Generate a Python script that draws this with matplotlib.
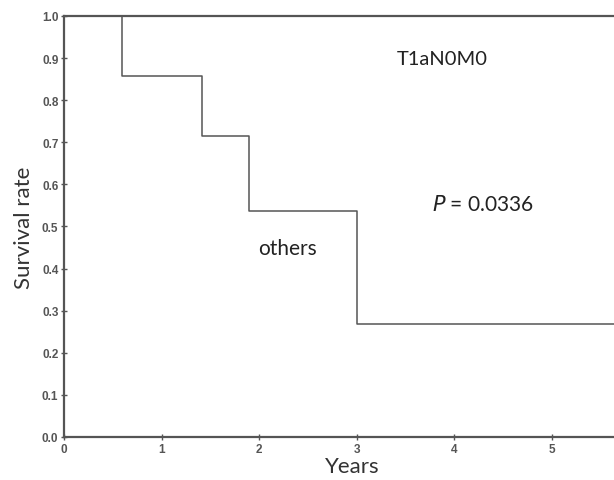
import matplotlib
matplotlib.use('Agg')
import matplotlib.pyplot as plt

# Kaplan-Meier steps
others_years = [0, 0.6, 1.42, 1.9, 3.0, 5.64]
others_surv = [1.0, 0.857, 0.714, 0.536, 0.268, 0.268]
t1a_years = [0, 5.64]
t1a_surv = [1.0, 1.0]

x_ticks = [0, 1, 2, 3, 4, 5]
y_ticks = [0.0, 0.1, 0.2, 0.3, 0.4, 0.5, 0.6, 0.7, 0.8, 0.9, 1.0]

line_col = '#555555'
label_font = 'Lato'

fig = plt.figure(figsize=(6.14, 4.81), dpi=100)
ax = fig.add_axes([0.1042, 0.0894, 0.8958, 0.8753])

ax.step(others_years, others_surv, where='post', color=line_col, lw=1.1)
ax.plot(t1a_years, t1a_surv, color=line_col, lw=1.6, clip_on=False)

ax.set_xlim(0, 5.64)
ax.set_ylim(0, 1.0)
ax.set_xticks(x_ticks)
ax.set_yticks(y_ticks)
ax.set_yticklabels([f'{v:.1f}' for v in y_ticks])

for s in ['top', 'right']:
    ax.spines[s].set_visible(False)
for s in ['left', 'bottom']:
    ax.spines[s].set_color(line_col)
    ax.spines[s].set_linewidth(1.6)

ax.tick_params(axis='both', direction='inout', length=4, width=1, color=line_col,
               labelsize=8.5, labelcolor='#555555', pad=2)
for lab in ax.get_xticklabels() + ax.get_yticklabels():
    lab.set_family('Liberation Sans')
    lab.set_fontweight('bold')

ax.set_xlabel('Years', fontsize=16, family=label_font, color='#333333')
ax.xaxis.set_label_coords(0.525, -0.045, transform=ax.transAxes)
ax.xaxis.label.set_va('top')
ax.set_ylabel('Survival rate', fontsize=16, family=label_font, color='#333333', labelpad=6)

ax.text(3.88, 0.898, 'T1aN0M0', fontsize=14.5, family=label_font, color='#222222',
        ha='center', va='center')
ax.text(4.30, 0.553, '$P$ = 0.0336', fontsize=15, family=label_font, color='#222222',
        ha='center', va='center')
ax.text(2.29, 0.449, 'others', fontsize=15, family=label_font, color='#222222',
        ha='center', va='center')

fig.savefig('out.png', dpi=100)
